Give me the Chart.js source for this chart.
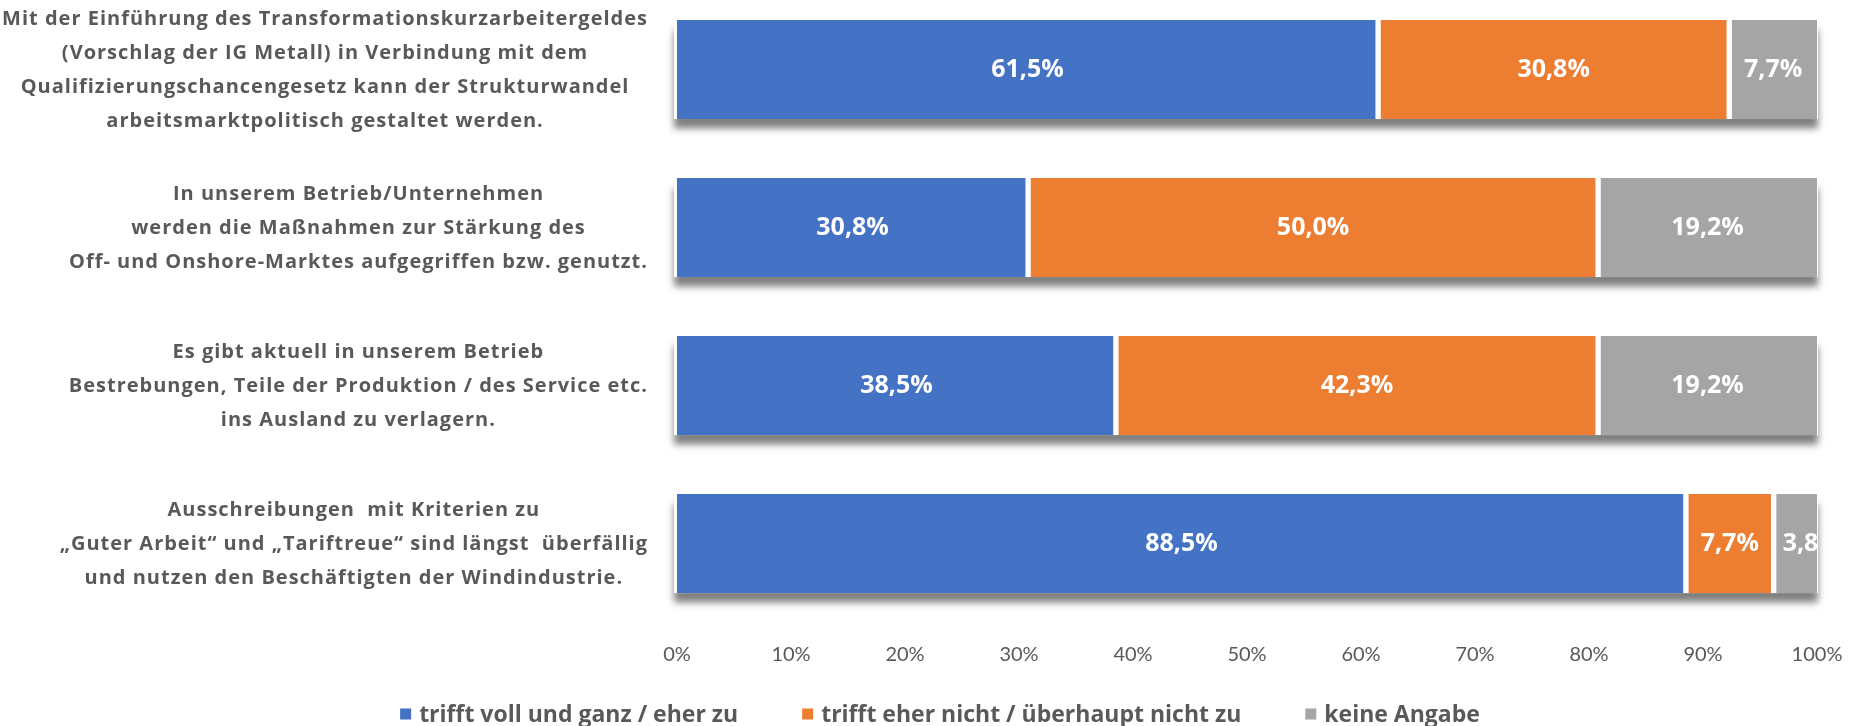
<!DOCTYPE html>
<html>
<head>
<meta charset="utf-8">
<script src="https://cdn.jsdelivr.net/npm/chart.js@4/dist/chart.umd.min.js"></script>
<style>
  html, body { margin: 0; padding: 0; background: #ffffff; }
  #wrap { position: relative; width: 1862px; height: 726px; }
</style>
</head>
<body>
<div id="wrap"><canvas id="c"></canvas></div>
<script>
// ---- data ----
const categories = [
  ["Mit der Einführung des Transformationskurzarbeitergeldes",
   "(Vorschlag der IG Metall) in Verbindung mit dem",
   "Qualifizierungschancengesetz kann der Strukturwandel",
   "arbeitsmarktpolitisch gestaltet werden."],
  ["In unserem Betrieb/Unternehmen",
   "werden die Maßnahmen zur Stärkung des",
   "Off- und Onshore-Marktes aufgegriffen bzw. genutzt."],
  ["Es gibt aktuell in unserem Betrieb",
   "Bestrebungen, Teile der Produktion / des Service etc.",
   "ins Ausland zu verlagern."],
  ["Ausschreibungen  mit Kriterien zu",
   "„Guter Arbeit“ und „Tariftreue“ sind längst  überfällig",
   "und nutzen den Beschäftigten der Windindustrie."]
];
const seriesNames = ["trifft voll und ganz / eher zu", "trifft eher nicht / überhaupt nicht zu", "keine Angabe"];
const trifftZu = [61.5, 30.8, 38.5, 88.5];
const trifftNicht = [30.8, 50.0, 42.3, 7.7];
const keineAngabe = [7.7, 19.2, 19.2, 3.8];
const xTicks = [0, 10, 20, 30, 40, 50, 60, 70, 80, 90, 100];
const seriesValues = [trifftZu, trifftNicht, keineAngabe];

// ---- styles ----
const COLORS = ["#4472C4", "#ED7D31", "#A5A5A5"];
const TEXT_GRAY = "#595959";
const FONT = "'Open Sans', 'DejaVu Sans', sans-serif";

Chart.defaults.font.family = FONT;

const fmt = v => v.toFixed(1).replace('.', ',') + '%';

const shadowPlugin = {
  id: 'rowShadow',
  beforeDatasetsDraw(chart) {
    const ctx = chart.ctx;
    const first = chart.getDatasetMeta(0).data;
    const last = chart.getDatasetMeta(chart.data.datasets.length - 1).data;
    first.forEach((el, i) => {
      const l = Math.min(el.base, el.x);
      const r = Math.max(last[i].base, last[i].x);
      const h = el.height;
      ctx.save();
      ctx.shadowColor = 'rgba(0,0,0,0.5)';
      ctx.shadowBlur = 7;
      ctx.shadowOffsetY = 10;
      ctx.fillStyle = '#ffffff';
      ctx.fillRect(l - 3, el.y - h / 2, r - l + 4, h);
      ctx.restore();
    });
  }
};

const valueLabelPlugin = {
  id: 'valueLabels',
  afterDatasetsDraw(chart) {
    const ctx = chart.ctx;
    const area = chart.chartArea;
    ctx.save();
    ctx.beginPath();
    ctx.rect(0, 0, area.right, chart.height);
    ctx.clip();
    ctx.font = "bold 25px " + FONT;
    ctx.fillStyle = '#ffffff';
    ctx.textBaseline = 'middle';
    chart.data.datasets.forEach((ds, di) => {
      const meta = chart.getDatasetMeta(di);
      meta.data.forEach((el, i) => {
        const txt = fmt(seriesValues[di][i]);
        const l = Math.min(el.base, el.x), r = Math.max(el.base, el.x);
        const w = ctx.measureText(txt).width;
        if (w + 8 > r - l) {
          ctx.textAlign = 'left';
          ctx.fillText(txt, l + 9, el.y);
        } else {
          ctx.textAlign = 'center';
          ctx.fillText(txt, (l + r) / 2, el.y);
        }
      });
    });
    ctx.restore();
  }
};

const categoryLabelPlugin = {
  id: 'categoryLabels',
  afterDraw(chart) {
    const ctx = chart.ctx;
    const yScale = chart.scales.y;
    const rightEdge = chart.chartArea.left - 29;
    const lineH = 34;
    ctx.save();
    ctx.font = "bold 20px " + FONT;
    if ('letterSpacing' in ctx) ctx.letterSpacing = '1px';
    ctx.fillStyle = TEXT_GRAY;
    ctx.textAlign = 'center';
    ctx.textBaseline = 'middle';
    categories.forEach((lines, i) => {
      const widest = Math.max(...lines.map(s => ctx.measureText(s).width));
      const cx = rightEdge - widest / 2;
      const cy = yScale.getPixelForValue(i) + 1;
      const y0 = cy - (lines.length - 1) * lineH / 2;
      lines.forEach((s, k) => ctx.fillText(s, cx, y0 + k * lineH));
    });
    ctx.restore();
  }
};

const legendPlugin = {
  id: 'customLegend',
  afterDraw(chart) {
    const ctx = chart.ctx;
    const box = 11, boxGap = 8, itemGap = 64;
    ctx.save();
    ctx.font = "bold 23px " + FONT;
    ctx.textBaseline = 'middle';
    ctx.textAlign = 'left';
    const items = chart.data.datasets.map(ds => ({ text: ds.label, color: ds.backgroundColor }));
    const widths = items.map(it => box + boxGap + ctx.measureText(it.text).width);
    const total = widths.reduce((a, b) => a + b, 0) + itemGap * (items.length - 1);
    let x = chart.width / 2 + 9 - total / 2;
    const y = chart.height - 12;
    items.forEach((it, i) => {
      ctx.fillStyle = it.color;
      ctx.fillRect(x, y - box / 2, box, box);
      ctx.fillStyle = TEXT_GRAY;
      ctx.fillText(it.text, x + box + boxGap, y + 1);
      x += widths[i] + itemGap;
    });
    ctx.restore();
  }
};

const datasets = seriesValues.map((vals, k) => ({
  label: seriesNames[k],
  data: vals.map((v, i) => ({ x: v, y: i })),
  backgroundColor: COLORS[k],
  borderColor: '#ffffff',
  borderWidth: k === 0 ? { right: 3 } : (k === 1 ? { left: 3, right: 3 } : { left: 3 }),
  borderSkipped: false,
  barThickness: 99,
  clip: false
}));

new Chart(document.getElementById('c'), {
  type: 'bar',
  data: { labels: categories.map((l, i) => i), datasets },
  plugins: [shadowPlugin, valueLabelPlugin, categoryLabelPlugin, legendPlugin],
  options: {
    indexAxis: 'y',
    responsive: true,
    maintainAspectRatio: false,
    animation: false,
    layout: { padding: { left: 677, right: 45, top: 0, bottom: 56 } },
    plugins: {
      legend: { display: false },
      tooltip: { enabled: false }
    },
    scales: {
      x: {
        stacked: true,
        min: 0,
        max: 100,
        afterBuildTicks: scale => { scale.ticks = xTicks.map(v => ({ value: v })); },
        grid: { display: false, drawTicks: false },
        border: { display: false },
        ticks: {
          padding: 3,
          color: TEXT_GRAY,
          font: { size: 20, family: "Lato, 'Open Sans', sans-serif" },
          callback: v => v + '%'
        }
      },
      y: {
        type: 'linear',
        stacked: true,
        display: false,
        reverse: true,
        offset: false,
        bounds: 'data',
        min: -0.44,
        max: 3.61
      }
    }
  }
});
</script>
</body>
</html>
